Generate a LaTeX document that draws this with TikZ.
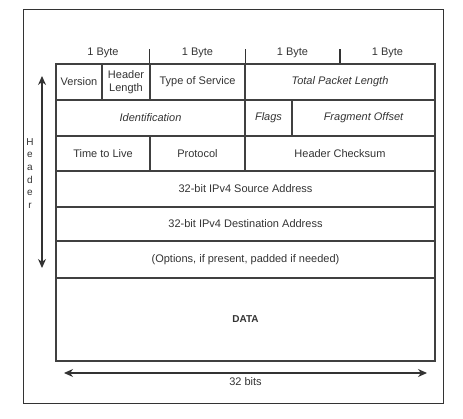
\documentclass[tikz,border=0pt]{standalone}
\usepackage{fontspec}
\setmainfont{Liberation Sans}
\usetikzlibrary{arrows.meta}

\begin{document}
\begin{tikzpicture}[x=1pt,y=-1pt,
  cell/.style={draw=black!75,line width=1.4pt,rectangle,inner sep=0pt,text=black!80,font=\fontsize{11}{13}\selectfont,align=center},
  lbl/.style={inner sep=0pt,text=black!80,font=\fontsize{11}{13}\selectfont,align=center},
  dim/.style={draw=black!80,line width=1.3pt,{Stealth[length=9pt,width=8pt]}-{Stealth[length=9pt,width=8pt]}}]

\useasboundingbox (0,0) rectangle (463,419);
\draw [black!80,line width=0.8pt] (23,9) rectangle (443,403);

% row 1
\node (ver) at (79,82) [cell,minimum width=46pt,minimum height=36pt] {Version};
\node (hlen) at (126,82) [cell,minimum width=48pt,minimum height=36pt] {Header\\Length};
\node (tos) at (197.5,82) [cell,minimum width=95pt,minimum height=36pt] {Type of Service};
\node (tlen) at (340,82) [cell,minimum width=190pt,minimum height=36pt] {\itshape Total Packet Length};

% row 2
\node (ident) at (150.5,118) [cell,minimum width=189pt,minimum height=36pt] {\itshape Identification};
\node (flags) at (268.5,118) [cell,minimum width=47pt,minimum height=36pt] {\itshape Flags};
\node (frag) at (363.5,118) [cell,minimum width=143pt,minimum height=36pt] {\itshape Fragment Offset};

% row 3
\node (ttl) at (103,153.5) [cell,minimum width=94pt,minimum height=35pt] {Time to Live};
\node (proto) at (197.5,153.5) [cell,minimum width=95pt,minimum height=35pt] {Protocol};
\node (csum) at (340,153.5) [cell,minimum width=190pt,minimum height=35pt] {Header Checksum};

% full rows
\node (src) at (245.5,189) [cell,minimum width=379pt,minimum height=36pt] {32-bit IPv4 Source Address};
\node (dst) at (245.5,224) [cell,minimum width=379pt,minimum height=34pt] {32-bit IPv4 Destination Address};
\node (opt) at (245.5,259.5) [cell,minimum width=379pt,minimum height=37pt] {(Options, if present, padded if needed)};
\node (data) at (245.5,319.5) [cell,minimum width=379pt,minimum height=83pt,font=\fontsize{10}{12}\bfseries] {DATA};

% byte labels
\node (b1) at (103,53) [lbl] {1 Byte};
\node (b2) at (197.5,53) [lbl] {1 Byte};
\node (b3) at (292.5,53) [lbl] {1 Byte};
\node (b4) at (387.5,53) [lbl] {1 Byte};
\draw [black!80,line width=1.2pt] (tos.north west) -- ++(0,-14) (tos.north east) -- ++(0,-14) (tlen.north) -- ++(0,-14);

% header arrow
\coordinate (htop) at (42,76);
\coordinate (hbot) at (42,268);
\draw [dim] (htop) -- (hbot);
\node (hdr) at (30,173.5) [lbl,font=\fontsize{10}{12.7}\selectfont] {H\\e\\a\\d\\e\\r};

% width arrow
\coordinate (wl) at (64,373);
\coordinate (wr) at (427,373);
\draw [dim] (wl) -- (wr);
\node (bits) at (245.5,381.5) [lbl] {32 bits};

\end{tikzpicture}
\end{document}
